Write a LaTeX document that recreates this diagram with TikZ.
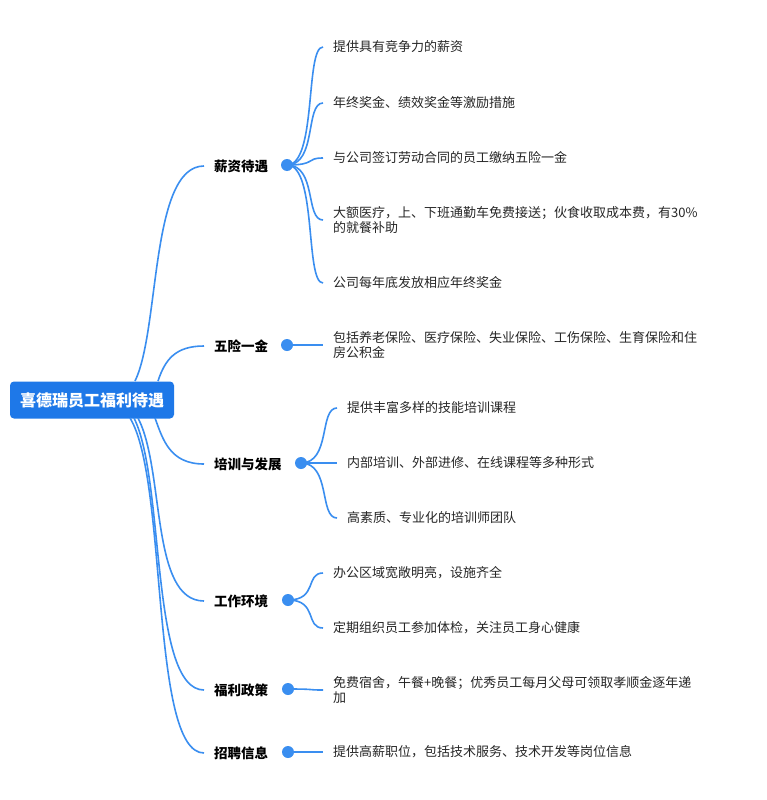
\documentclass[tikz,border=0pt]{standalone}
\usepackage{fontspec}
\setmainfont{Noto Sans CJK SC}
\begin{document}
\begin{tikzpicture}[x=1pt,y=-1pt,
  ln/.style={draw=lineblue,line width=1.6pt},
  leaf/.style={anchor=west,inner sep=0pt,font=\fontsize{13}{15.5}\selectfont,align=left,text=black!85},
  br/.style={anchor=west,inner sep=0pt,font=\fontsize{13.5}{15}\selectfont\bfseries},
  dot/.style={circle,fill=lineblue,inner sep=0pt,minimum size=12pt}]
\definecolor{lineblue}{HTML}{3A8EF0}
\definecolor{rootblue}{HTML}{1E78E8}
\fill[white] (0,0) rectangle (766,800);
\node[fill=rootblue,rounded corners=4pt,minimum width=164pt,minimum height=37pt,text=white,font=\fontsize{16}{18}\selectfont\bfseries] (root) at (92,400) {喜德瑞员工福利待遇};
% branches
\node[br] (b1) at (214,166) {薪资待遇};
\node[br] (b2) at (214,346) {五险一金};
\node[br] (b3) at (214,464) {培训与发展};
\node[br] (b4) at (214,601) {工作环境};
\node[br] (b5) at (214,690) {福利政策};
\node[br] (b6) at (214,753) {招聘信息};
\node[dot] (d1) at (287,165) {};
\node[dot] (d2) at (287,345) {};
\node[dot] (d3) at (301,463) {};
\node[dot] (d4) at (288,600) {};
\node[dot] (d5) at (288,689) {};
\node[dot] (d6) at (288,752) {};
\coordinate (s1) at (135,381);
\coordinate (s2) at (158,381);
\coordinate (s3) at (155,418);
\coordinate (s4) at (138,418);
\coordinate (s5) at (134,418);
\coordinate (s6) at (130,418);
\foreach \i in {1,...,6}{\coordinate (e\i) at ([xshift=-10pt]b\i.west);}
\draw[ln] (s1) .. controls (160,330) and (150,166) .. (e1);
\draw[ln] (s2) .. controls (165,360) and (175,346) .. (e2);
\draw[ln] (s3) .. controls (163,440) and (170,464) .. (e3);
\draw[ln] (s4) .. controls (165,470) and (150,601) .. (e4);
\draw[ln] (s5) .. controls (165,480) and (150,690) .. (e5);
\draw[ln] (s6) .. controls (168,480) and (150,753) .. (e6);
% leaves
\node[leaf] (l11) at (333,47) {提供具有竞争力的薪资};
\node[leaf] (l12) at (333,103) {年终奖金、绩效奖金等激励措施};
\node[leaf] (l13) at (333,158) {与公司签订劳动合同的员工缴纳五险一金};
\node[leaf] (l14) at (333,220) {大额医疗，上、下班通勤车免费接送；伙食收取成本费，有30\%\\的就餐补助};
\node[leaf] (l15) at (333,283) {公司每年底发放相应年终奖金};
\node[leaf] (l21) at (333,345) {包括养老保险、医疗保险、失业保险、工伤保险、生育保险和住\\房公积金};
\node[leaf] (l31) at (347,408) {提供丰富多样的技能培训课程};
\node[leaf] (l32) at (347,463) {内部培训、外部进修、在线课程等多种形式};
\node[leaf] (l33) at (347,518) {高素质、专业化的培训师团队};
\node[leaf] (l41) at (333,573) {办公区域宽敞明亮，设施齐全};
\node[leaf] (l42) at (333,628) {定期组织员工参加体检，关注员工身心健康};
\node[leaf] (l51) at (333,690) {免费宿舍，午餐+晚餐；优秀员工每月父母可领取孝顺金逐年递\\加};
\node[leaf] (l61) at (333,752) {提供高薪职位，包括技术服务、技术开发等岗位信息};
\foreach \d/\l in {d1/l11,d1/l12,d1/l13,d1/l14,d1/l15,d2/l21,d3/l31,d3/l32,d3/l33,d4/l41,d4/l42,d5/l51,d6/l61}{
  \draw[ln] (\d.center) .. controls ([xshift=30pt]\d.center) and ([xshift=-28pt]\l.west) .. ([xshift=-10pt]\l.west);
}
\end{tikzpicture}
\end{document}
